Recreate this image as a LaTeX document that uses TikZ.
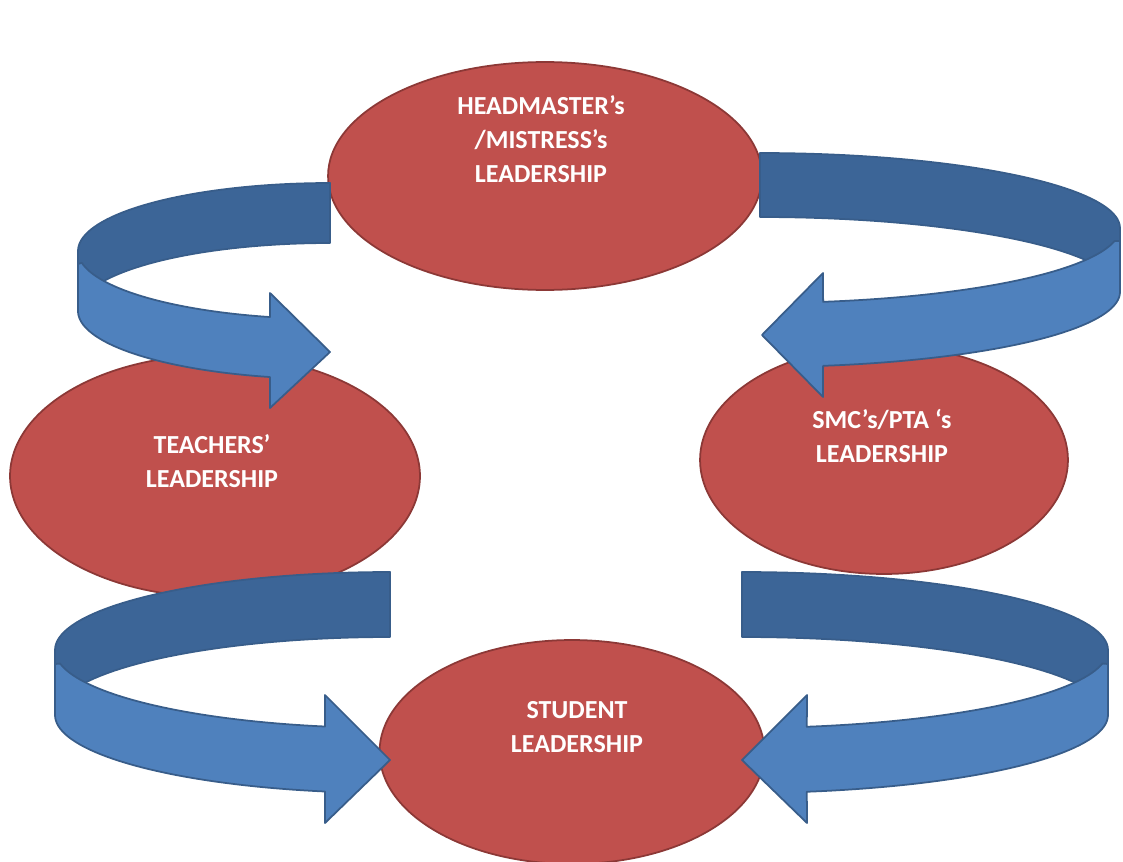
\documentclass[tikz,border=0pt]{standalone}
\usepackage{fontspec}
\setmainfont{Carlito}
\usepackage{xcolor}
\usepackage{tikz}
\usetikzlibrary{shapes.geometric, positioning}

\definecolor{bubblered}{RGB}{192,80,77}
\definecolor{bubbleline}{RGB}{140,56,54}
\definecolor{ribbonlight}{RGB}{79,129,189}
\definecolor{ribbondark}{RGB}{60,101,151}
\definecolor{ribbonline}{RGB}{56,93,138}

\begin{document}
\begin{tikzpicture}[
    x=0.02cm, y=-0.02cm,
    bubble/.style={ellipse, draw=bubbleline, fill=bubblered, line width=1pt, inner sep=0pt},
    caption/.style={text=white, align=center, font=\bfseries\fontsize{14.8}{19.5}\selectfont},
    back/.style={fill=ribbondark, draw=ribbonline, line width=1pt, line join=round},
    front/.style={fill=ribbonlight, draw=ribbonline, line width=1pt, line join=round}
]
\useasboundingbox (0,0) rectangle (1123,862);

% Leadership bubbles
\node[bubble, minimum width=8.68cm, minimum height=4.56cm] (head) at (545,176) {};
\node[bubble, minimum width=8.2cm, minimum height=4.84cm] (teachers) at (215,476) {};
\node[bubble, minimum width=7.36cm, minimum height=4.56cm] (smc) at (884,460) {};
\node[bubble, minimum width=7.7cm, minimum height=4.48cm] (student) at (572,752) {};

% Texts
\node[caption] (headtxt) at (541,139) {HEADMASTER’s\\/MISTRESS’s\\LEADERSHIP};
\node[caption] (teacherstxt) at (212,461) {TEACHERS’\\LEADERSHIP};
\node[caption] (smctxt) at (882,436) {SMC’s/PTA ‘s\\LEADERSHIP};
\node[caption] (studenttxt) at (577,727) {STUDENT\\LEADERSHIP};

% Curved arrows: head -> teachers
\filldraw[back] plot[domain=90:180, samples=40] ({330+252*cos(\x)}, {251-68*sin(\x)})
    -- plot[domain=180:90, samples=40] ({330+252*cos(\x)}, {311-68*sin(\x)}) -- cycle;
\filldraw[front] (78,264) -- plot[domain=190:256.2, samples=40] ({330+252*cos(\x)}, {251-68*sin(\x)})
    -- (270,293) -- (330,352) -- (270,408)
    -- plot[domain=256.2:180, samples=40] ({330+252*cos(\x)}, {311-68*sin(\x)}) -- cycle;

% head -> smc
\filldraw[back] plot[domain=90:0, samples=40] ({760+360*cos(\x)}, {228-75*sin(\x)})
    -- plot[domain=0:90, samples=40] ({760+360*cos(\x)}, {292-75*sin(\x)}) -- cycle;
\filldraw[front] (1120,241) -- plot[domain=-10:-79.9, samples=40] ({760+360*cos(\x)}, {228-75*sin(\x)})
    -- (823,273) -- (762,335) -- (823,397)
    -- plot[domain=-79.9:0, samples=40] ({760+360*cos(\x)}, {292-75*sin(\x)}) -- cycle;

% teachers -> student
\filldraw[back] plot[domain=90:180, samples=40] ({390+335*cos(\x)}, {650-78*sin(\x)})
    -- plot[domain=180:90, samples=40] ({390+335*cos(\x)}, {715-78*sin(\x)}) -- cycle;
\filldraw[front] (55,664) -- plot[domain=190:258.8, samples=40] ({390+335*cos(\x)}, {650-78*sin(\x)})
    -- (325,695) -- (390,760) -- (325,823)
    -- plot[domain=258.8:180, samples=40] ({390+335*cos(\x)}, {715-78*sin(\x)}) -- cycle;

% smc -> student
\filldraw[back] plot[domain=90:0, samples=40] ({742+366*cos(\x)}, {650-78*sin(\x)})
    -- plot[domain=0:90, samples=40] ({742+366*cos(\x)}, {715-78*sin(\x)}) -- cycle;
\filldraw[front] (1108,664) -- plot[domain=-10:-79.8, samples=40] ({742+366*cos(\x)}, {650-78*sin(\x)})
    -- (807,695) -- (742,760) -- (807,823)
    -- plot[domain=-79.8:0, samples=40] ({742+366*cos(\x)}, {715-78*sin(\x)}) -- cycle;

\end{tikzpicture}
\end{document}
